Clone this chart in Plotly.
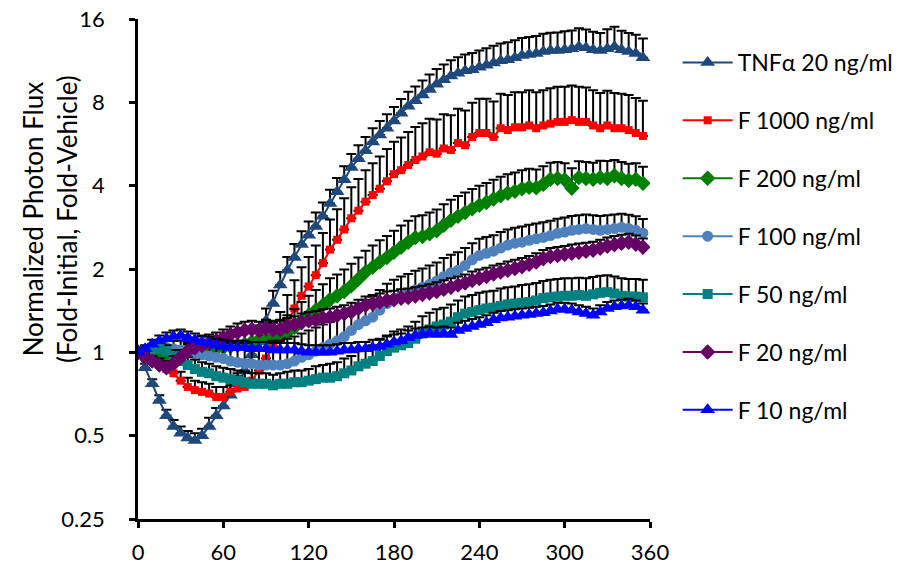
import plotly.graph_objects as go

time_min = [0, 5, 10, 15, 20, 25, 30, 35, 40, 45, 50, 55, 60, 65, 70, 75, 80, 85, 90, 95,
            100, 105, 110, 115, 120, 125, 130, 135, 140, 145, 150, 155, 160, 165, 170, 175,
            180, 185, 190, 195, 200, 205, 210, 215, 220, 225, 230, 235, 240, 245, 250, 255,
            260, 265, 270, 275, 280, 285, 290, 295, 300, 305, 310, 315, 320, 325, 330, 335,
            340, 345, 350, 355]

tnf_20 = [1.00, 0.88, 0.77, 0.67, 0.59, 0.54, 0.51, 0.49, 0.48, 0.50, 0.54, 0.59, 0.64, 0.70,
          0.77, 0.86, 0.98, 1.13, 1.30, 1.50, 1.75, 1.98, 2.20, 2.45, 2.65, 2.85, 3.10, 3.45,
          3.80, 4.20, 4.65, 5.00, 5.35, 5.75, 6.10, 6.45, 6.85, 7.30, 7.75, 8.10, 8.50, 8.90,
          9.30, 9.65, 9.95, 10.2, 10.4, 10.5, 10.7, 10.9, 11.1, 11.3, 11.4, 11.6, 11.8, 11.9,
          12.0, 12.2, 12.3, 12.3, 12.4, 12.5, 12.7, 12.6, 12.4, 12.3, 12.5, 12.7, 12.4, 12.2,
          12.0, 11.6]
tnf_20_err = [0.00, 0.03, 0.03, 0.03, 0.03, 0.03, 0.03, 0.03, 0.03, 0.03, 0.04, 0.04, 0.05,
              0.06, 0.07, 0.08, 0.10, 0.12, 0.14, 0.17, 0.20, 0.23, 0.26, 0.29, 0.32, 0.35,
              0.38, 0.42, 0.46, 0.50, 0.55, 0.60, 0.64, 0.70, 0.75, 0.80, 0.85, 0.92, 0.98,
              1.03, 1.10, 1.18, 1.25, 1.32, 1.40, 1.45, 1.50, 1.55, 1.60, 1.65, 1.70, 1.75,
              1.78, 1.82, 1.85, 1.88, 1.90, 1.95, 1.98, 2.00, 2.05, 2.05, 2.10, 2.05, 2.00,
              1.95, 2.20, 2.30, 2.10, 2.05, 2.05, 2.00]

f_1000 = [1.00, 0.97, 0.93, 0.90, 0.87, 0.84, 0.79, 0.75, 0.73, 0.72, 0.71, 0.69, 0.69, 0.72,
          0.74, 0.75, 0.79, 0.86, 0.95, 1.05, 1.12, 1.28, 1.44, 1.60, 1.73, 1.90, 2.10, 2.35,
          2.55, 2.78, 3.05, 3.25, 3.50, 3.70, 3.90, 4.15, 4.40, 4.55, 4.75, 4.95, 5.10, 5.28,
          5.22, 5.45, 5.38, 5.70, 5.60, 6.00, 6.20, 6.20, 6.00, 6.45, 6.35, 6.50, 6.50, 6.60,
          6.45, 6.60, 6.70, 6.80, 6.80, 6.90, 6.80, 6.80, 6.60, 6.45, 6.60, 6.45, 6.45, 6.35,
          6.20, 6.05]
f_1000_err = [0.00, 0.03, 0.04, 0.05, 0.05, 0.06, 0.06, 0.06, 0.06, 0.06, 0.06, 0.06, 0.06,
              0.07, 0.08, 0.10, 0.13, 0.16, 0.20, 0.24, 0.28, 0.33, 0.38, 0.43, 0.48, 0.53,
              0.60, 0.67, 0.74, 0.82, 0.90, 0.98, 1.05, 1.12, 1.20, 1.28, 1.36, 1.42, 1.50,
              1.56, 1.62, 1.70, 1.72, 1.80, 1.80, 1.88, 1.88, 1.98, 2.05, 2.05, 2.05, 2.15,
              2.15, 2.20, 2.20, 2.25, 2.25, 2.25, 2.30, 2.30, 2.30, 2.30, 2.30, 2.25, 2.25,
              2.20, 2.20, 2.20, 2.15, 2.15, 2.10, 2.05]

f_200 = [1.00, 0.99, 0.97, 0.96, 0.97, 0.99, 1.00, 1.01, 1.02, 1.02, 1.03, 1.03, 1.04, 1.05,
         1.06, 1.07, 1.09, 1.10, 1.11, 1.13, 1.15, 1.18, 1.23, 1.30, 1.36, 1.42, 1.48, 1.55,
         1.60, 1.66, 1.74, 1.84, 1.95, 2.03, 2.12, 2.20, 2.30, 2.40, 2.50, 2.60, 2.62, 2.68,
         2.75, 2.88, 3.00, 3.10, 3.20, 3.30, 3.40, 3.48, 3.58, 3.68, 3.76, 3.82, 3.90, 3.95,
         3.93, 4.05, 4.22, 4.25, 4.20, 3.92, 4.28, 4.25, 4.22, 4.28, 4.25, 4.35, 4.25, 4.18,
         4.22, 4.08]
f_200_err = [0.00, 0.03, 0.03, 0.03, 0.03, 0.04, 0.05, 0.06, 0.07, 0.08, 0.08, 0.09, 0.10,
             0.11, 0.11, 0.12, 0.12, 0.13, 0.14, 0.15, 0.16, 0.18, 0.20, 0.22, 0.24, 0.26,
             0.28, 0.30, 0.31, 0.33, 0.35, 0.36, 0.38, 0.40, 0.42, 0.43, 0.45, 0.47, 0.49,
             0.50, 0.51, 0.52, 0.53, 0.55, 0.56, 0.57, 0.58, 0.59, 0.60, 0.61, 0.62, 0.63,
             0.64, 0.64, 0.65, 0.65, 0.65, 0.65, 0.62, 0.62, 0.62, 0.70, 0.62, 0.62, 0.62,
             0.64, 0.66, 0.60, 0.62, 0.62, 0.60, 0.60]

f_100 = [1.00, 1.02, 1.03, 1.04, 1.04, 1.03, 1.02, 1.01, 0.99, 0.98, 0.97, 0.96, 0.95, 0.93,
         0.92, 0.91, 0.91, 0.90, 0.90, 0.90, 0.90, 0.91, 0.93, 0.96, 0.98, 1.01, 1.04, 1.07,
         1.10, 1.14, 1.20, 1.26, 1.30, 1.34, 1.42, 1.50, 1.56, 1.60, 1.64, 1.68, 1.72, 1.76,
         1.81, 1.88, 1.94, 1.98, 2.06, 2.16, 2.24, 2.28, 2.32, 2.38, 2.44, 2.48, 2.50, 2.54,
         2.57, 2.60, 2.64, 2.69, 2.72, 2.76, 2.78, 2.80, 2.78, 2.76, 2.78, 2.80, 2.83, 2.80,
         2.76, 2.70]
f_100_err = [0.00, 0.03, 0.04, 0.05, 0.06, 0.07, 0.08, 0.09, 0.10, 0.11, 0.12, 0.13, 0.14,
             0.15, 0.16, 0.17, 0.18, 0.19, 0.19, 0.20, 0.20, 0.21, 0.21, 0.21, 0.22, 0.22,
             0.22, 0.22, 0.23, 0.23, 0.24, 0.24, 0.25, 0.25, 0.26, 0.27, 0.27, 0.28, 0.28,
             0.29, 0.29, 0.30, 0.30, 0.31, 0.31, 0.32, 0.32, 0.32, 0.33, 0.33, 0.33, 0.34,
             0.34, 0.34, 0.35, 0.35, 0.35, 0.35, 0.35, 0.35, 0.35, 0.35, 0.35, 0.35, 0.35,
             0.35, 0.35, 0.35, 0.34, 0.34, 0.34, 0.33]

f_50 = [1.00, 1.02, 1.04, 1.03, 1.01, 0.97, 0.93, 0.90, 0.87, 0.85, 0.84, 0.82, 0.81, 0.80,
        0.79, 0.78, 0.77, 0.77, 0.77, 0.76, 0.77, 0.77, 0.78, 0.78, 0.79, 0.80, 0.81, 0.81,
        0.82, 0.84, 0.86, 0.89, 0.91, 0.93, 0.97, 1.01, 1.04, 1.06, 1.08, 1.12, 1.17, 1.21,
        1.24, 1.26, 1.29, 1.34, 1.38, 1.40, 1.42, 1.44, 1.45, 1.47, 1.49, 1.50, 1.51, 1.52,
        1.54, 1.57, 1.58, 1.59, 1.60, 1.60, 1.61, 1.60, 1.62, 1.64, 1.65, 1.63, 1.60, 1.59,
        1.59, 1.58]
f_50_err = [0.00, 0.02, 0.03, 0.04, 0.05, 0.05, 0.06, 0.06, 0.07, 0.07, 0.07, 0.07, 0.07,
            0.07, 0.07, 0.07, 0.07, 0.07, 0.07, 0.07, 0.07, 0.08, 0.08, 0.08, 0.08, 0.09,
            0.09, 0.10, 0.10, 0.11, 0.11, 0.12, 0.12, 0.13, 0.14, 0.14, 0.15, 0.15, 0.16,
            0.17, 0.18, 0.18, 0.19, 0.19, 0.20, 0.20, 0.21, 0.21, 0.22, 0.22, 0.22, 0.23,
            0.23, 0.23, 0.24, 0.24, 0.24, 0.24, 0.25, 0.25, 0.25, 0.25, 0.25, 0.25, 0.25,
            0.25, 0.25, 0.25, 0.25, 0.25, 0.25, 0.25]

f_20 = [1.00, 0.96, 0.93, 0.90, 0.88, 0.91, 0.96, 1.01, 1.04, 1.06, 1.08, 1.10, 1.13, 1.16,
        1.18, 1.20, 1.21, 1.20, 1.22, 1.21, 1.21, 1.24, 1.26, 1.28, 1.30, 1.31, 1.33, 1.34,
        1.36, 1.38, 1.40, 1.44, 1.48, 1.50, 1.52, 1.54, 1.55, 1.57, 1.58, 1.60, 1.62, 1.64,
        1.66, 1.69, 1.72, 1.75, 1.78, 1.82, 1.85, 1.88, 1.92, 1.95, 1.98, 2.01, 2.04, 2.08,
        2.12, 2.18, 2.22, 2.24, 2.26, 2.28, 2.30, 2.32, 2.34, 2.38, 2.42, 2.45, 2.48, 2.50,
        2.46, 2.40]
f_20_err = [0.00, 0.03, 0.04, 0.05, 0.05, 0.06, 0.06, 0.07, 0.07, 0.08, 0.08, 0.08, 0.08,
            0.08, 0.09, 0.09, 0.09, 0.09, 0.09, 0.09, 0.09, 0.09, 0.09, 0.10, 0.10, 0.10,
            0.10, 0.10, 0.10, 0.10, 0.11, 0.11, 0.11, 0.11, 0.11, 0.12, 0.12, 0.12, 0.12,
            0.12, 0.12, 0.12, 0.13, 0.13, 0.13, 0.13, 0.13, 0.14, 0.14, 0.14, 0.14, 0.14,
            0.15, 0.15, 0.15, 0.15, 0.16, 0.16, 0.16, 0.16, 0.16, 0.17, 0.17, 0.17, 0.17,
            0.17, 0.18, 0.18, 0.18, 0.18, 0.18, 0.18]

f_10 = [1.00, 1.03, 1.07, 1.10, 1.12, 1.14, 1.15, 1.13, 1.11, 1.09, 1.08, 1.06, 1.05, 1.04,
        1.04, 1.04, 1.03, 1.03, 1.03, 1.02, 1.02, 1.02, 1.02, 1.01, 1.00, 1.00, 1.00, 1.00,
        1.01, 1.02, 1.02, 1.03, 1.03, 1.04, 1.05, 1.07, 1.09, 1.10, 1.13, 1.15, 1.16, 1.17,
        1.16, 1.17, 1.16, 1.20, 1.22, 1.24, 1.26, 1.28, 1.31, 1.33, 1.34, 1.35, 1.36, 1.37,
        1.38, 1.39, 1.41, 1.43, 1.43, 1.42, 1.40, 1.38, 1.36, 1.40, 1.44, 1.46, 1.47, 1.48,
        1.46, 1.42]
f_10_err = [0.00, 0.03, 0.04, 0.05, 0.06, 0.06, 0.06, 0.06, 0.06, 0.06, 0.06, 0.06, 0.06,
            0.06, 0.06, 0.06, 0.06, 0.06, 0.06, 0.06, 0.06, 0.06, 0.06, 0.06, 0.06, 0.06,
            0.06, 0.06, 0.06, 0.06, 0.06, 0.06, 0.06, 0.07, 0.07, 0.07, 0.07, 0.07, 0.07,
            0.07, 0.07, 0.07, 0.07, 0.07, 0.07, 0.08, 0.08, 0.08, 0.08, 0.08, 0.08, 0.08,
            0.08, 0.08, 0.08, 0.08, 0.08, 0.08, 0.08, 0.08, 0.08, 0.08, 0.08, 0.08, 0.08,
            0.08, 0.08, 0.08, 0.08, 0.08, 0.08, 0.08]

series_names = ["TNFα 20 ng/ml", "F 1000 ng/ml", "F 200 ng/ml", "F 100 ng/ml",
                "F 50 ng/ml", "F 20 ng/ml", "F 10 ng/ml"]
series_values = [tnf_20, f_1000, f_200, f_100, f_50, f_20, f_10]
series_errors = [tnf_20_err, f_1000_err, f_200_err, f_100_err, f_50_err, f_20_err, f_10_err]
series_colors = ["#1F497D", "#FF0000", "#008000", "#4F81BD", "#008080", "#660066", "#0000FF"]
series_symbols = ["triangle-up", "square", "diamond", "circle", "square", "diamond", "triangle-up"]
series_sizes = [13, 8, 12, 11, 10, 12, 13]

y_ticks = [0.25, 0.5, 1, 2, 4, 8, 16]
y_tick_text = ["0.25", "0.5", "1", "2", "4", "8", "16"]
x_ticks = [0, 60, 120, 180, 240, 300, 360]

FONT = "Lato"

fig = go.Figure()
for i, (name, vals, errs, col, sym, sz) in enumerate(
        zip(series_names, series_values, series_errors, series_colors, series_symbols, series_sizes)):
    fig.add_trace(go.Scatter(
        x=time_min, y=vals, name=name, mode="lines+markers",
        legendgroup="g%d" % i,
        line=dict(color=col, width=2),
        marker=dict(symbol=sym, size=sz, color=col, line=dict(width=0)),
        error_y=dict(type="data", array=errs, arrayminus=[0] * len(errs), symmetric=False,
                     color="black", thickness=2, width=5),
    ))

fig.update_layout(
    width=906, height=568,
    margin=dict(l=138, r=256, t=19, b=49, autoexpand=False),
    paper_bgcolor="white", plot_bgcolor="white",
    font=dict(family=FONT, size=22, color="black"),
    showlegend=True,
    legend=dict(x=1.054, y=0.956, xanchor="left", yanchor="top",
                font=dict(family=FONT, size=23, color="black"),
                tracegroupgap=25, itemwidth=50, bgcolor="rgba(0,0,0,0)"),
    xaxis=dict(range=[0, 360], tickvals=x_ticks, showline=True, linecolor="black",
               linewidth=2.5, ticks="outside", ticklen=6, tickwidth=2.5, tickcolor="black",
               showgrid=False, zeroline=False, ticklabelstandoff=6, automargin=False,
               ticklabeloverflow="allow", tickfont=dict(family=FONT, size=22)),
    yaxis=dict(type="log", range=[-0.60206, 1.20412], tickvals=y_ticks, ticktext=y_tick_text,
               showline=True, linecolor="black", linewidth=2.5, ticks="outside", ticklen=6,
               tickwidth=2.5, tickcolor="black", showgrid=False, zeroline=False,
               ticklabelstandoff=20, automargin=False, ticklabeloverflow="allow",
               tickfont=dict(family=FONT, size=22)),
    annotations=[dict(text="Normalized Photon Flux<br>(Fold-Initial, Fold-Vehicle)",
                      xref="paper", yref="paper", x=-0.172, y=0.6, textangle=-90,
                      xanchor="center", yanchor="middle", showarrow=False,
                      font=dict(family=FONT, size=26, color="black"))],
)

# remove the browser's default 8px body margin so the figure fills the window exactly
fig.write_html("out.html", config={"displayModeBar": False},
               post_script="document.body.style.margin='0px';")
